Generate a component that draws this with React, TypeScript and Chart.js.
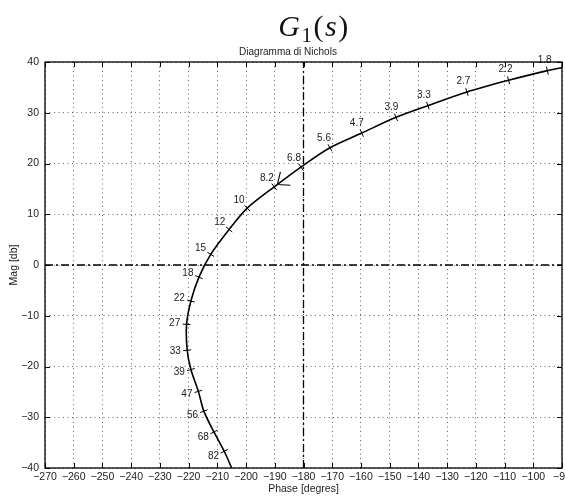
import React, { useEffect, useRef } from "react";
import { Chart, registerables } from "chart.js";

Chart.register(...registerables);

// Frequency labels (rad/s) along the Nichols locus; "" = curve end points without a marker
const freqLabels = ["", "1.8", "2.2", "2.7", "3.3", "3.9", "4.7", "5.6", "6.8", "8.2", "10", "12", "15", "18", "22", "27", "33", "39", "47", "56", "68", "82", ""];
// Phase in degrees
const phaseDeg = [-90, -95.1, -108.6, -123.1, -136.7, -147.8, -159.7, -170.8, -180.9, -190.2, -199.6, -205.9, -212.3, -216.4, -219.2, -220.7, -220.5, -219.2, -216.6, -214.7, -211.2, -207.6, -205.0];
// Magnitude in dB
const magDb = [38.9, 38.3, 36.4, 34.1, 31.4, 29.1, 26.0, 23.1, 19.3, 15.4, 11.2, 7.0, 2.1, -2.4, -7.1, -11.7, -16.8, -20.6, -24.9, -28.8, -32.9, -36.7, -40.0];

const xTickValues = [-270, -260, -250, -240, -230, -220, -210, -200, -190, -180, -170, -160, -150, -140, -130, -120, -110, -100, -90];
const yTickValues = [-40, -30, -20, -10, 0, 10, 20, 30, 40];
const criticalPhase = -180;
const criticalMag = 0;
const arrowLabel = "8.2";

const FONT = "'Liberation Sans', Arial, Helvetica, sans-serif";
const fmt = (v: number) => String(v).replace("-", "\u2212");

export default function App() {
  const ref = useRef<HTMLCanvasElement | null>(null);

  useEffect(() => {
    if (!ref.current) return;
    const n = phaseDeg.length;
    const curve = phaseDeg.map((p, i) => ({ x: p, y: magDb[i] }));

    const tangentPx = (chart: any, i: number) => {
      const xs = chart.scales.x, ys = chart.scales.y;
      const a = Math.max(0, i - 1), b = Math.min(n - 1, i + 1);
      const dx = xs.getPixelForValue(phaseDeg[b]) - xs.getPixelForValue(phaseDeg[a]);
      const dy = ys.getPixelForValue(magDb[b]) - ys.getPixelForValue(magDb[a]);
      const l = Math.hypot(dx, dy) || 1;
      return { tx: dx / l, ty: dy / l };
    };

    const frame = {
      id: "frame",
      afterDraw(chart: any) {
        const { ctx, chartArea: ca } = chart;
        const xs = chart.scales.x, ys = chart.scales.y;
        ctx.save();
        ctx.strokeStyle = "#000";
        ctx.lineWidth = 1;
        ctx.beginPath();
        const L = 5;
        xTickValues.forEach((v) => {
          const x = Math.round(xs.getPixelForValue(v)) + 0.5;
          ctx.moveTo(x, ca.bottom); ctx.lineTo(x, ca.bottom - L);
          ctx.moveTo(x, ca.top); ctx.lineTo(x, ca.top + L);
        });
        yTickValues.forEach((v) => {
          const y = Math.round(ys.getPixelForValue(v)) + 0.5;
          ctx.moveTo(ca.left, y); ctx.lineTo(ca.left + L, y);
          ctx.moveTo(ca.right, y); ctx.lineTo(ca.right - L, y);
        });
        ctx.stroke();
        ctx.lineWidth = 1.3;
        ctx.strokeRect(ca.left, ca.top, ca.right - ca.left, ca.bottom - ca.top);
        // subtitle
        ctx.fillStyle = "#222";
        ctx.font = `10px ${FONT}`;
        ctx.textAlign = "center";
        ctx.textBaseline = "middle";
        ctx.fillText("Diagramma di Nichols", 288, 52);
        ctx.restore();
      },
    };

    const labels = {
      id: "freqLabels",
      afterDatasetsDraw(chart: any) {
        const meta = chart.getDatasetMeta(2);
        const { ctx } = chart;
        ctx.save();
        ctx.fillStyle = "#222";
        ctx.font = `10px ${FONT}`;
        ctx.textAlign = "center";
        ctx.textBaseline = "middle";
        meta.data.forEach((pt: any, i: number) => {
          const lab = freqLabels[i];
          if (!lab) return;
          const { tx, ty } = tangentPx(chart, i);
          let nx = -ty, ny = tx;
          if (nx + ny > 0) { nx = -nx; ny = -ny; }
          ctx.fillText(lab, pt.x + nx * 12, pt.y + ny * 11);
          if (lab === arrowLabel) {
            const prev = meta.data[i - 1];
            const bx0 = prev.x - pt.x, by0 = prev.y - pt.y;
            const bl = Math.hypot(bx0, by0) || 1;
            const bx = bx0 / bl, by = by0 / bl;
            const vx = pt.x + bx * 4, vy = pt.y + by * 4;
            const ang = Math.atan2(by, bx);
            ctx.strokeStyle = "#000";
            ctx.lineWidth = 1.1;
            ctx.beginPath();
            [-0.7, 0.7].forEach((d) => {
              ctx.moveTo(vx, vy);
              ctx.lineTo(vx + Math.cos(ang + d) * 13, vy + Math.sin(ang + d) * 13);
            });
            ctx.stroke();
          }
        });
        ctx.restore();
      },
    };

    const chart = new Chart(ref.current, {
      type: "line",
      data: {
        datasets: [
          {
            data: [{ x: criticalPhase, y: yTickValues[0] }, { x: criticalPhase, y: yTickValues[yTickValues.length - 1] }],
            borderColor: "#000",
            borderWidth: 1.3,
            borderDash: [8, 3, 2, 3],
            pointRadius: 0,
            fill: false,
          },
          {
            data: [{ x: xTickValues[0], y: criticalMag }, { x: xTickValues[xTickValues.length - 1], y: criticalMag }],
            borderColor: "#000",
            borderWidth: 1.3,
            borderDash: [8, 3, 2, 3],
            pointRadius: 0,
            fill: false,
          },
          {
            data: curve,
            borderColor: "#000",
            borderWidth: 1.6,
            tension: 0.3,
            fill: false,
            pointStyle: "line",
            pointRadius: (c: any) => (freqLabels[c.dataIndex] ? 4 : 0),
            pointBorderColor: "#000",
            pointBorderWidth: 1,
            pointRotation: (c: any) => {
              const ch = c.chart;
              if (!ch || !ch.scales || !ch.scales.x || c.dataIndex === undefined) return 0;
              const { tx, ty } = tangentPx(ch, c.dataIndex);
              return (Math.atan2(ty, tx) * 180) / Math.PI + 90;
            },
          },
        ],
      },
      options: {
        animation: false,
        responsive: false,
        layout: { padding: { top: 62, right: 3, bottom: 0, left: 0 } },
        plugins: { legend: { display: false }, tooltip: { enabled: false }, title: { display: false } },
        scales: {
          x: {
            type: "linear",
            min: -270,
            max: -90,
            afterBuildTicks: (s: any) => { s.ticks = xTickValues.map((v) => ({ value: v })); },
            afterFit: (s: any) => { s.height = 30; s.paddingLeft = 0; s.paddingRight = 0; },
            ticks: { callback: (v: any) => fmt(Number(v)), color: "#222", font: { family: FONT, size: 10.5 }, padding: 3, maxRotation: 0, autoSkip: false },
            grid: { color: "rgba(0,0,0,0.6)", lineWidth: 1, drawTicks: false },
            border: { display: false, dash: [1, 3.5] },
            title: { display: true, text: "Phase [degres]", color: "#222", font: { family: FONT, size: 10.5 }, padding: { top: 0, bottom: 3 } },
          },
          y: {
            type: "linear",
            min: -40,
            max: 40,
            afterBuildTicks: (s: any) => { s.ticks = yTickValues.map((v) => ({ value: v })); },
            afterFit: (s: any) => { s.width = 45; s.paddingTop = 0; s.paddingBottom = 0; },
            ticks: { callback: (v: any) => fmt(Number(v)), color: "#222", font: { family: FONT, size: 10.5 }, padding: 6, autoSkip: false },
            grid: { color: "rgba(0,0,0,0.6)", lineWidth: 1, drawTicks: false },
            border: { display: false, dash: [1, 3.5] },
            title: { display: true, text: "Mag [db]", color: "#222", font: { family: FONT, size: 10.5 }, padding: { top: 8, bottom: 0 } },
          },
        },
      },
      plugins: [frame, labels],
    } as any);

    return () => chart.destroy();
  }, []);

  return (
    <div style={{ position: "fixed", left: 0, top: 0, width: 565, height: 498, overflow: "hidden", background: "#fff" }}>
      <canvas ref={ref} width={565} height={498} style={{ position: "absolute", left: 0, top: 0, width: 565, height: 498 }} />
      <div
        style={{
          position: "absolute",
          left: 314,
          top: 11,
          transform: "translateX(-50%)",
          whiteSpace: "nowrap",
          fontFamily: "'Liberation Serif', 'Times New Roman', serif",
          fontSize: 30,
          lineHeight: "30px",
          letterSpacing: 1.5,
          color: "#111",
          pointerEvents: "none",
        }}
      >
        <span style={{ fontStyle: "italic" }}>G</span>
        <span style={{ fontSize: "0.7em", position: "relative", top: "0.3em" }}>1</span>
        <span>(</span>
        <span style={{ fontStyle: "italic" }}>s</span>
        <span>)</span>
      </div>
    </div>
  );
}
